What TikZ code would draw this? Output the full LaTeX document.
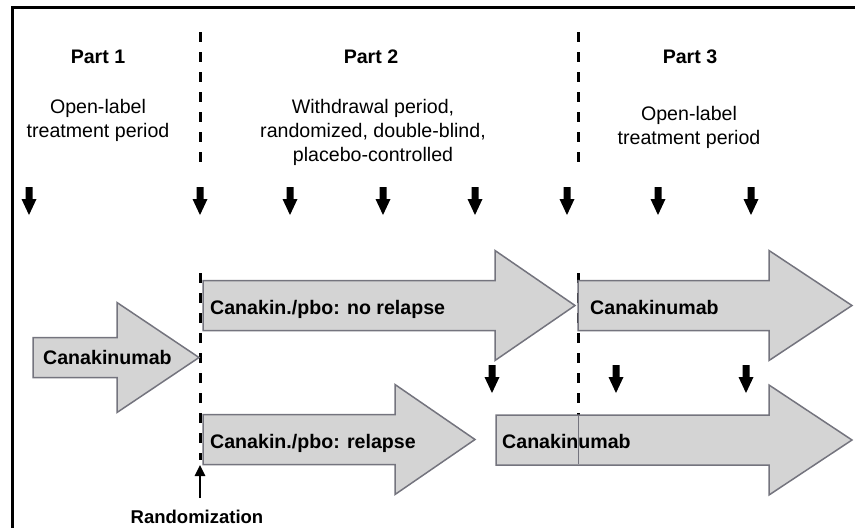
\documentclass[tikz,border=0pt]{standalone}
\usepackage{fontspec}
\setmainfont{Liberation Sans}
\usetikzlibrary{arrows.meta}
\definecolor{boxgray}{HTML}{D4D4D4}
\definecolor{edgegray}{HTML}{74747E}

\begin{document}
\begin{tikzpicture}[x=1pt,y=-1pt,
  every node/.style={inner sep=0pt,font=\fontsize{19.6}{24}\selectfont},
  blockarrow/.style={fill=boxgray,draw=edgegray,line width=1.5pt,line join=miter},
  phaseline/.style={line width=3pt,dash pattern=on 10pt off 10pt},
  armtext/.style={anchor=base west,font=\fontsize{19.6}{24}\selectfont\bfseries}]
  \useasboundingbox (0,0) rectangle (855,528);
  % Define named coordinates
  \coordinate (randtop) at (200,32);
  \coordinate (randmid) at (200,165);
  \coordinate (randlow) at (200,273);
  \coordinate (randend) at (200,460);
  \coordinate (opentop) at (578,32);
  \coordinate (openmid) at (578,165);
  \coordinate (openlow) at (578,273);
  \coordinate (openend) at (578,467);
  \coordinate (randtip) at (200,465);
  \coordinate (randfoot) at (200,498);
  % Frame
  \draw[line width=3pt] (12,528) -- (12,7.5) -- (855,7.5);
  % Period boundaries
  \draw[phaseline] (randtop) -- (randmid) (randlow) -- (randend);
  \draw[phaseline] (opentop) -- (openmid) (openlow) -- (openend);
  % Draw the treatment arrows
  \foreach \xl/\xh/\xt/\yc/\sh in {33/117/199/357.5/20, 203/495/575/305.5/25,
    578/769/852/305.5/25, 203/395/475/439.5/25, 496/769/852/440/25}
  {
    \draw[blockarrow] (\xl,\yc-\sh) -- (\xh,\yc-\sh) -- (\xh,\yc-55) -- (\xt,\yc)
      -- (\xh,\yc+55) -- (\xh,\yc+\sh) -- (\xl,\yc+\sh) -- cycle;
  }
  \draw[edgegray,line width=1pt] (578,415) -- (578,464);
  % Visit arrows
  \foreach \x/\y in {29/187, 200/187, 290/187, 383/187, 475/187, 567/187,
    658/187, 751/187, 492/365, 616/365, 746/365}
  {
    \fill (\x-3.5,\y) -- (\x+3.5,\y) -- (\x+3.5,\y+12) -- (\x+7.5,\y+12)
      -- (\x,\y+28) -- (\x-7.5,\y+12) -- (\x-3.5,\y+12) -- cycle;
  }
  % Label the parts
  \node[font=\fontsize{19.6}{24}\selectfont\bfseries,anchor=base] (part1) at (98,63) {Part 1};
  \node[font=\fontsize{19.6}{24}\selectfont\bfseries,anchor=base] (part2) at (371,63) {Part 2};
  \node[font=\fontsize{19.6}{24}\selectfont\bfseries,anchor=base] (part3) at (690,63) {Part 3};
  \node[anchor=north,align=center] (period1) at (98,99) {Open-label\\treatment period};
  \node[anchor=north,align=center] (period2) at (373,99) {Withdrawal period,\\randomized, double-blind,\\placebo-controlled};
  \node[anchor=north,align=center] (period3) at (689,106) {Open-label\\treatment period};
  % Text in the arrows
  \node[armtext] (canak1) at (43,364) {Canakinumab};
  \node[armtext] (norelapse) at (210,314) {Canakin./pbo: no relapse};
  \node[armtext] (canak3top) at (590,314) {Canakinumab};
  \node[armtext] (relapse) at (210,448) {Canakin./pbo: relapse};
  \node[armtext] (canak3bot) at (502,448) {Canakinumab};
  % Randomization
  \draw[line width=2.5pt,-{Triangle[width=10pt,length=11pt]}] (randfoot) -- (randtip);
  \node[font=\fontsize{18.5}{22}\selectfont\bfseries,anchor=base] (randtxt) at (197,523) {Randomization};
\end{tikzpicture}
\end{document}
